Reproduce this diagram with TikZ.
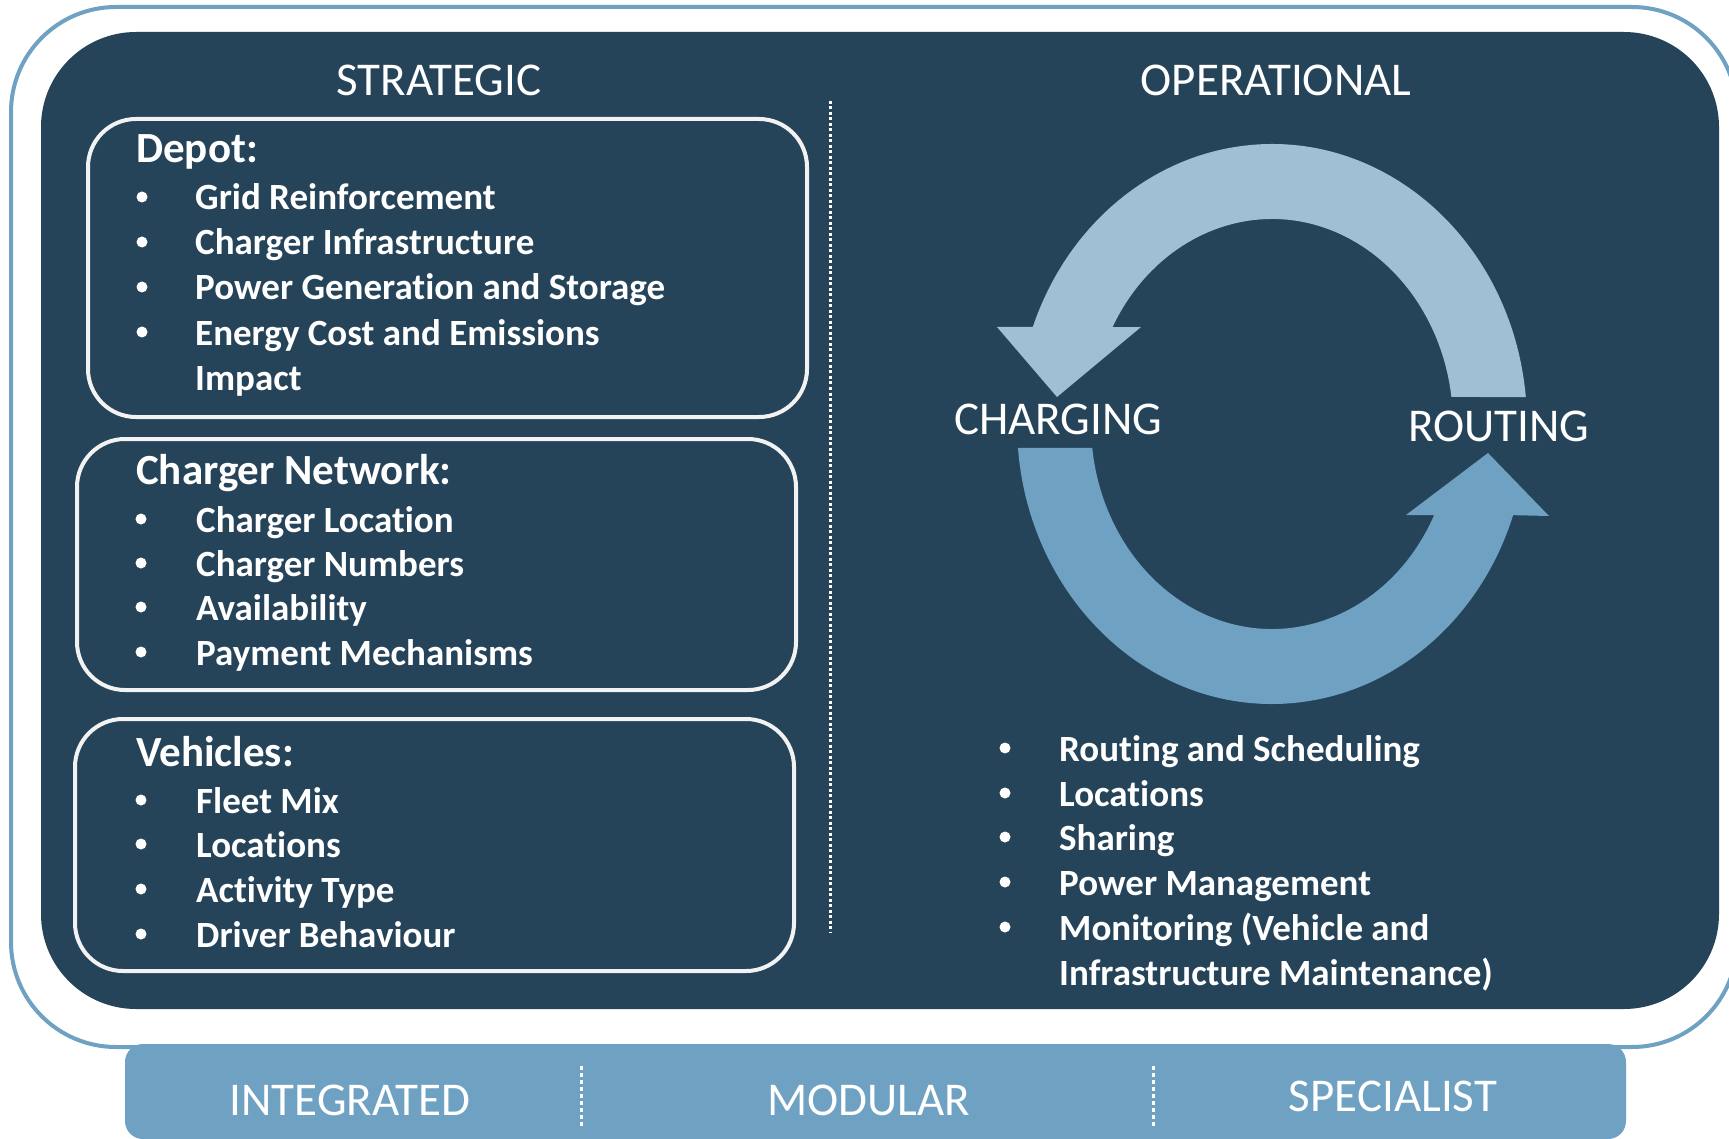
\documentclass[tikz,border=0pt]{standalone}
\usepackage{fontspec}
\setmainfont{Carlito}[Ligatures=NoCommon]
\usetikzlibrary{calc}
\definecolor{darkbg}{HTML}{264459}
\definecolor{midblue}{HTML}{6FA1C2}
\definecolor{lightblue}{HTML}{A0BFD5}
\definecolor{boxline}{HTML}{F2F2F2}
\tikzset{
  titletxt/.style={text=white, inner sep=0pt, anchor=base, font=\fontsize{47}{56}\selectfont},
  cyclelbl/.style={text=white, inner sep=0pt, anchor=base west, font=\fontsize{47}{56}\selectfont},
  bottomlbl/.style={text=white, inner sep=0pt, anchor=base, font=\fontsize{47}{56}\selectfont},
  headtxt/.style={text=white, inner sep=0pt, anchor=base west, font=\bfseries\fontsize{43}{51}\selectfont},
  itemtxt/.style={text=white, inner sep=0pt, anchor=base west, font=\bfseries\fontsize{37}{45}\selectfont},
  bul/.style={circle, fill=white, inner sep=0pt, minimum size=11pt, yshift=13pt},
  framebox/.style={draw=boxline, line width=4pt, rounded corners=48pt},
}
\begin{document}
\begin{tikzpicture}[x=1pt,y=-1pt]
\useasboundingbox (0,0) rectangle (1729,1139);
\fill[white] (0,0) rectangle (1729,1139);
% bottom bar
\fill[midblue, rounded corners=18pt] (125,1044) rectangle (1626,1139);
% outer frame
\draw[midblue, line width=4pt, rounded corners=105pt] (11,7) rectangle (1737,1047);
% dark panel
\fill[darkbg, rounded corners=95pt] (41,32) rectangle (1719,1009);

% titles
\node[titletxt] (strat) at (439,96) {STRATEGIC};
\node[titletxt] (oper) at (1276,96) {OPERATIONAL};

% dotted divider
\coordinate (d1) at (830,101);
\coordinate (d2) at (830,933);
\draw[white, line width=3pt, dash pattern=on 3pt off 2.5pt] (d1) -- (d2);

% boxes
\draw[framebox] (88,119) rectangle (807,417);
\draw[framebox] (77,439) rectangle (796,690);
\draw[framebox] (75,719) rectangle (794,971);

% Depot
\node[headtxt] (depot) at (136,163) {Depot:};
\node[bul] (b11) at (142,210) {};
\node[itemtxt] (i11) at (195,210) {Grid Reinforcement};
\node[bul] (b12) at (142,255) {};
\node[itemtxt] (i12) at (195,255) {Charger Infrastructure};
\node[bul] (b13) at (142,300) {};
\node[itemtxt] (i13) at (195,300) {Power Generation and Storage};
\node[bul] (b14) at (142,345) {};
\node[itemtxt] (i14) at (195,345) {Energy Cost and Emissions};
\node[itemtxt] (i15) at (195,391) {Impact};

% Charger network
\node[headtxt] (chnet) at (136,484) {Charger Network:};
\node[bul] (b21) at (141,532) {};
\node[itemtxt] (i21) at (196,532) {Charger Location};
\node[bul] (b22) at (141,576) {};
\node[itemtxt] (i22) at (196,576) {Charger Numbers};
\node[bul] (b23) at (141,620) {};
\node[itemtxt] (i23) at (196,620) {Availability};
\node[bul] (b24) at (141,665) {};
\node[itemtxt] (i24) at (196,665) {Payment Mechanisms};

% Vehicles
\node[headtxt] (veh) at (136,766) {Vehicles:};
\node[bul] (b31) at (141,813) {};
\node[itemtxt] (i31) at (196,813) {Fleet Mix};
\node[bul] (b32) at (141,857) {};
\node[itemtxt] (i32) at (196,857) {Locations};
\node[bul] (b33) at (141,902) {};
\node[itemtxt] (i33) at (196,902) {Activity Type};
\node[bul] (b34) at (141,947) {};
\node[itemtxt] (i34) at (196,947) {Driver Behaviour};

% cycle arrows
\coordinate (C) at (1272,424);
\fill[lightblue] ($(C)+(354.5:255 and 280)$) arc[start angle=354.5, end angle=200.3, x radius=255, y radius=280]
  -- (997,327) -- (1057,397) -- (1141,327)
  -- ($(C)+(208.2:181 and 205)$) arc[start angle=208.2, end angle=352.4, x radius=181, y radius=205] -- cycle;
\fill[midblue] ($(C)+(175.1:255 and 280)$) arc[start angle=175.1, end angle=19, x radius=255, y radius=280]
  -- (1549,516) -- (1488,453) -- (1406,515)
  -- ($(C)+(26.4:181 and 205)$) arc[start angle=26.4, end angle=173.3, x radius=181, y radius=205] -- cycle;
\node[cyclelbl] (charging) at (954,434) {CHARGING};
\node[cyclelbl] (routing) at (1408,441) {ROUTING};

% operational list
\node[bul] (r1b) at (1005,761) {};
\node[itemtxt] (r1) at (1059,761) {Routing and Scheduling};
\node[bul] (r2b) at (1005,806) {};
\node[itemtxt] (r2) at (1059,806) {Locations};
\node[bul] (r3b) at (1005,850) {};
\node[itemtxt] (r3) at (1059,850) {Sharing};
\node[bul] (r4b) at (1005,895) {};
\node[itemtxt] (r4) at (1059,895) {Power Management};
\node[bul] (r5b) at (1005,940) {};
\node[itemtxt] (r5) at (1059,940) {Monitoring (Vehicle and};
\node[itemtxt] (r6) at (1059,985) {Infrastructure Maintenance)};

% bottom bar labels and dividers
\coordinate (s1a) at (581,1066);
\coordinate (s1b) at (581,1126);
\coordinate (s2a) at (1153,1066);
\coordinate (s2b) at (1153,1126);
\draw[white, line width=3pt, dash pattern=on 4pt off 3pt] (s1a) -- (s1b);
\draw[white, line width=3pt, dash pattern=on 4pt off 3pt] (s2a) -- (s2b);
\node[bottomlbl] (integ) at (350,1115) {INTEGRATED};
\node[bottomlbl] (modul) at (869,1115) {MODULAR};
\node[bottomlbl] (spec) at (1393,1111) {SPECIALIST};
\end{tikzpicture}
\end{document}
